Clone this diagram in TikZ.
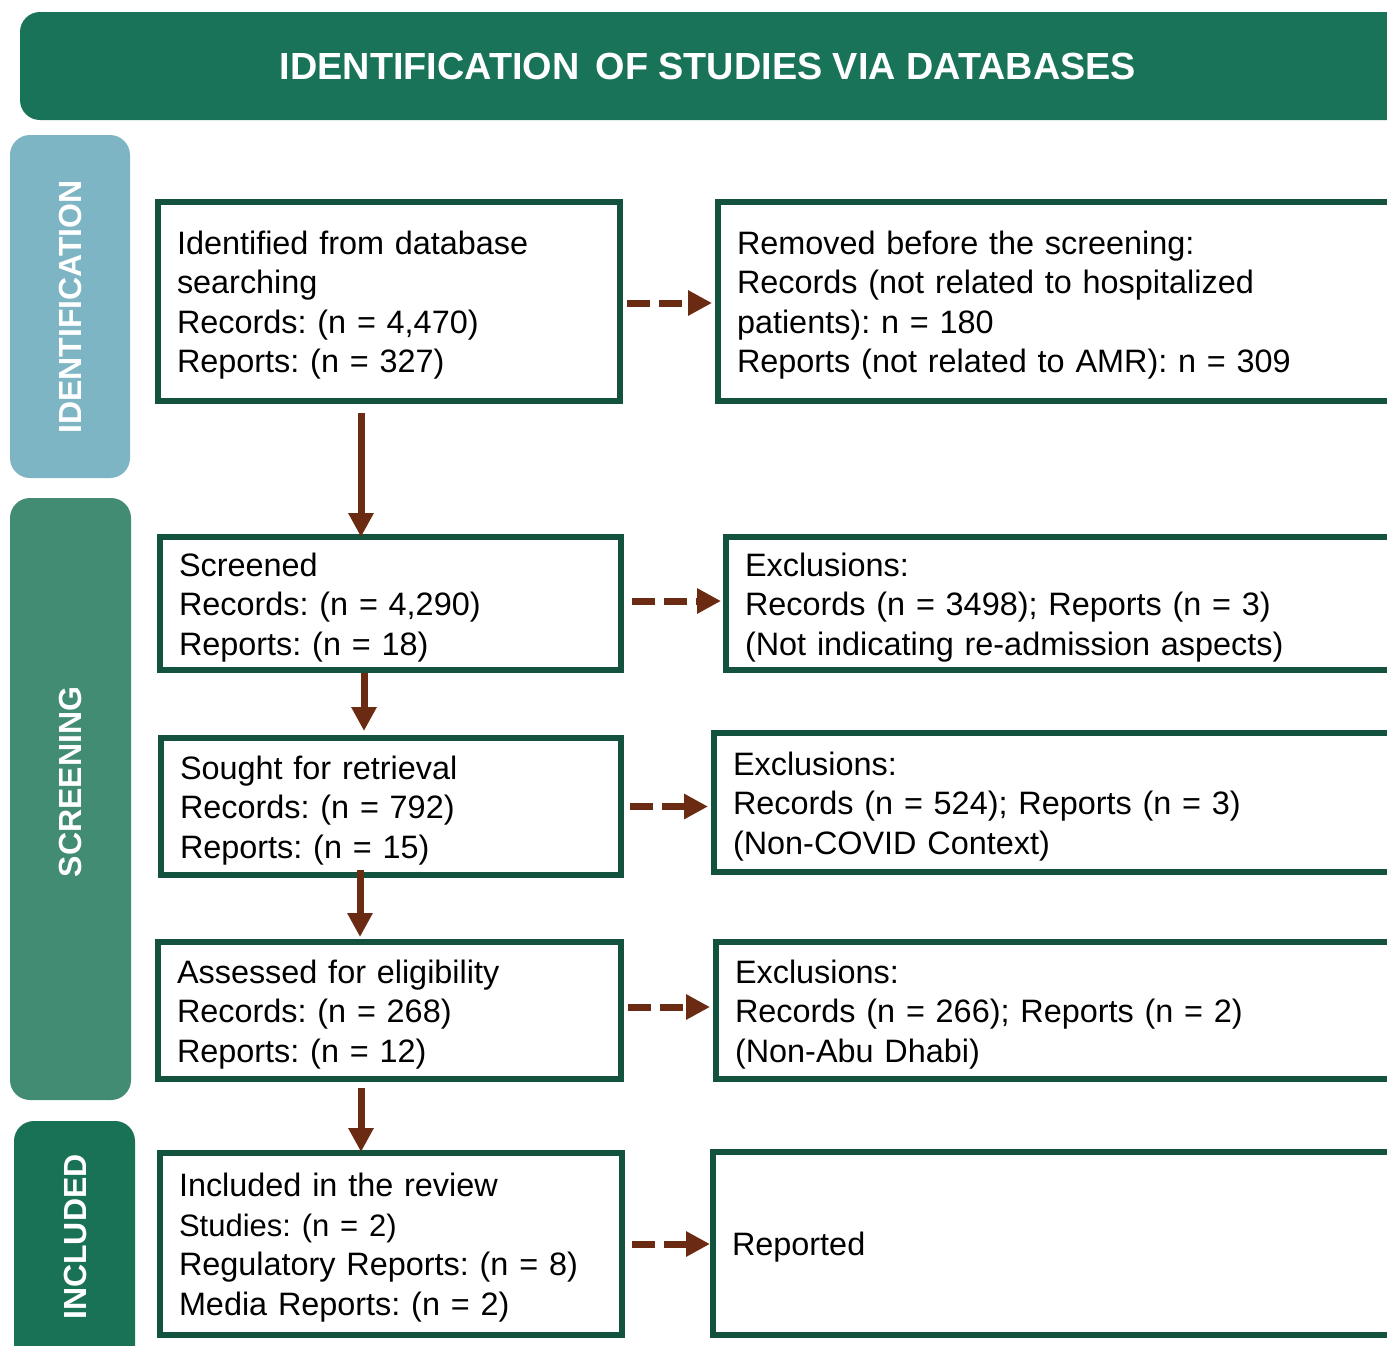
\documentclass[tikz,border=0pt]{standalone}
\usepackage{fontspec}
\setmainfont{Liberation Sans}
\usetikzlibrary{arrows.meta}
\definecolor{hdrgreen}{HTML}{187358}
\definecolor{idblue}{HTML}{7EB5C4}
\definecolor{scrgreen}{HTML}{418C73}
\definecolor{incgreen}{HTML}{1A7256}
\definecolor{boxline}{HTML}{13523F}
\definecolor{arrowbrown}{HTML}{6B2A12}
\frenchspacing
\begin{document}
\begin{tikzpicture}[x=0.5pt,y=-0.5pt,
  box/.style={draw=boxline, line width=3pt, fill=white, inner xsep=9.5pt, inner ysep=0pt,
    align=left, font=\fontsize{16.2}{19.75}\selectfont, text=black,
    execute at begin node={\rule{0pt}{15.5pt}}},
  band/.style={rounded corners=10pt},
  sidetext/.style={rotate=90, text=white, font=\bfseries\fontsize{16}{19}\selectfont},
  flow/.style={draw=arrowbrown, line width=3.5pt, -{Triangle[length=12pt,width=12pt]}},
  dflow/.style={flow, dash pattern=on 11.5pt off 4.5pt},
]
\useasboundingbox (0,0) rectangle (1387,1345);
\clip (0,0) rectangle (1387,1345);

% header band
\fill[hdrgreen, band] (20,12) rectangle (1440,120);
\node[text=white, font=\bfseries\fontsize{18.9}{22}\selectfont] (title) at (708,66) {IDENTIFICATION\hspace{0.15em} OF STUDIES VIA DATABASES};

% side bands
\fill[idblue, band] (10,135) rectangle (130,478);
\node[sidetext] (sideid) at (70,307) {IDENTIFICATION};
\fill[scrgreen, band] (10,498) rectangle (131,1100);
\node[sidetext] (sidescr) at (70,782) {SCREENING};
\fill[incgreen, band] (14,1121) rectangle (135,1400);
\node[sidetext] (sideinc) at (75,1237) {INCLUDED};

% left column
\node[box, text width=212pt, minimum height=99.5pt] (b1) at (389,301.5)
  {Identified from database\\searching\\Records: (n = 4,470)\\Reports: (n = 327)};
\node[box, text width=211.5pt, minimum height=66.5pt] (b2) at (390.5,603.5)
  {Screened\\Records: (n = 4,290)\\Reports: (n = 18)};
\node[box, text width=211pt, minimum height=68.5pt] (b3) at (391,806.5)
  {Sought for retrieval\\Records: (n = 792)\\Reports: (n = 15)};
\node[box, text width=212.5pt, minimum height=68.5pt] (b4) at (389.5,1010.5)
  {Assessed for eligibility\\Records: (n = 268)\\Reports: (n = 12)};
\node[box, text width=212pt, minimum height=91pt] (b5) at (391,1244)
  {Included in the review\\{\fontsize{15.5}{19.75}\selectfont Studies: (n = 2)}\\Regulatory Reports: (n = 8)\\Media Reports: (n = 2)};

% right column
\node[box, text width=322pt, minimum height=99.5pt] (r1) at (1059,301.5)
  {Removed before the screening:\\Records (not related to hospitalized\\patients): n = 180\\Reports (not related to AMR): n = 309};
\node[box, text width=318pt, minimum height=66.5pt] (r2) at (1063,603.5)
  {Exclusions:\\Records (n = 3498); Reports (n = 3)\\(Not indicating re-admission aspects)};
\node[box, text width=324pt, minimum height=69.5pt] (r3) at (1057,802.5)
  {Exclusions:\\Records (n = 524); Reports (n = 3)\\(Non-COVID Context)};
\node[box, text width=323pt, minimum height=68.5pt] (r4) at (1058,1010.5)
  {Exclusions:\\Records (n = 266); Reports (n = 2)\\(Non-Abu Dhabi)};
\node[box, text width=324.5pt, minimum height=91.5pt] (r5) at (1056.5,1243.5)
  {Reported};

% vertical arrows
\coordinate (v1) at ([xshift=-14pt]b1.south);
\coordinate (v2) at ([xshift=-13.25pt]b2.south);
\coordinate (v3) at ([xshift=-15.5pt]b3.south);
\coordinate (v4) at ([xshift=-14.25pt]b4.south);
\draw[flow, shorten <=4.5pt, shorten >=-1.5pt] (v1) -- (v1 |- b2.north);
\draw[flow, shorten >=2pt] (v2) -- (v2 |- b3.north);
\draw[flow, shorten <=-4pt, shorten >=1pt] (v3) -- (v3 |- b4.north);
\draw[flow, shorten <=3pt, shorten >=-1pt] (v4) -- (v4 |- b5.north);

% dashed arrows
\draw[dflow, shorten <=2pt, shorten >=1.5pt] ([yshift=-0.75pt]b1.east) -- ([yshift=-0.75pt]b1.east -| r1.west);
\draw[dflow, shorten <=4pt, shorten >=1pt] ([yshift=1.25pt]b2.east) -- ([yshift=1.25pt]b2.east -| r2.west);
\draw[dflow, shorten <=3pt, shorten >=1.5pt] (b3.east) -- (b3.east -| r3.west);
\draw[dflow, shorten <=2pt, shorten >=1.5pt] ([yshift=1.75pt]b4.east) -- ([yshift=1.75pt]b4.east -| r4.west);
\draw[dflow, shorten <=3.5pt, shorten >=0pt] (b5.east) -- (b5.east -| r5.west);
\end{tikzpicture}
\end{document}
